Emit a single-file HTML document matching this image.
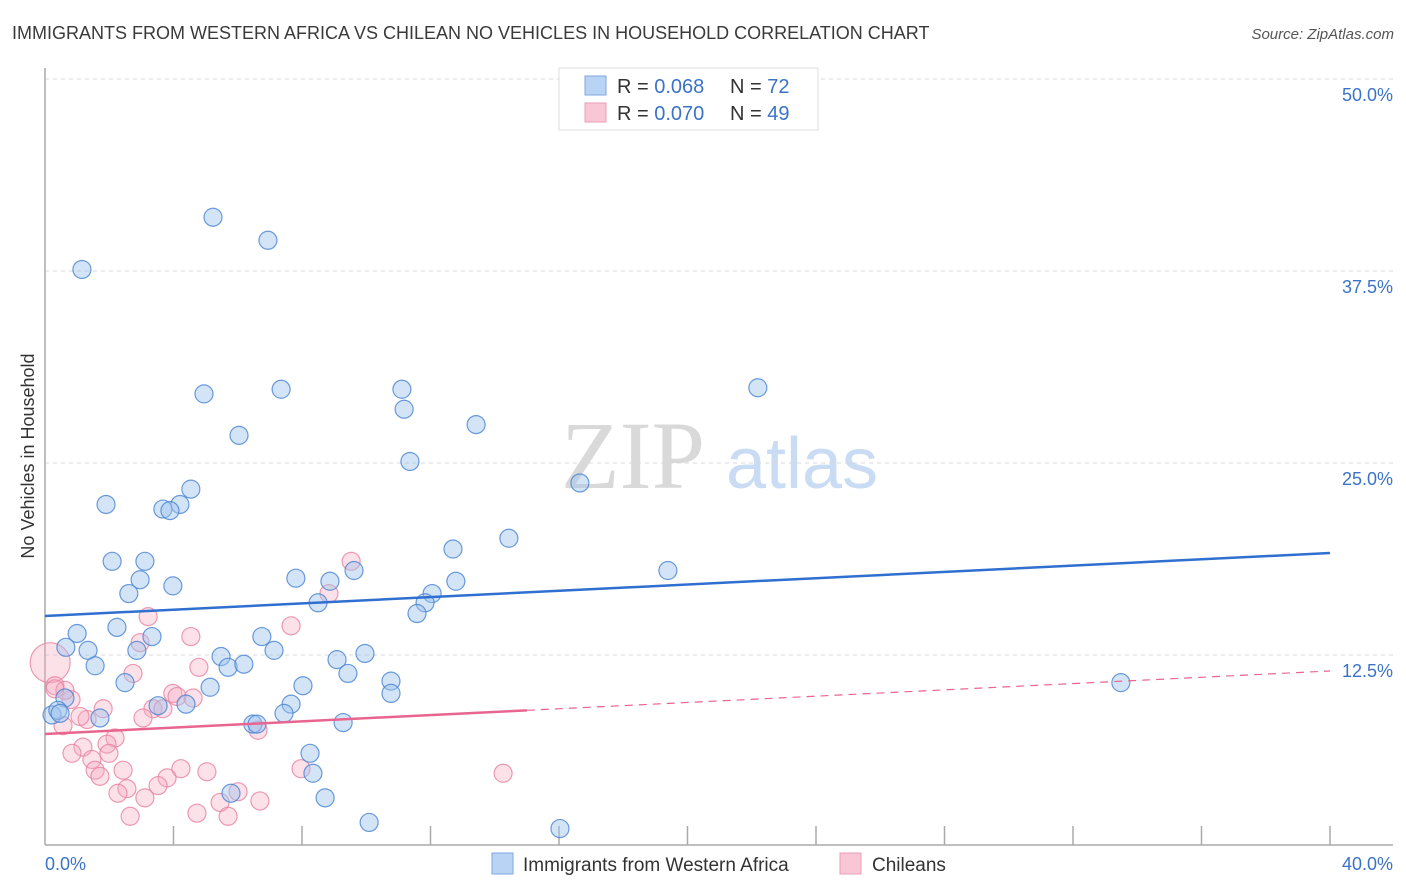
<!DOCTYPE html>
<html><head><meta charset="utf-8">
<style>
body{margin:0;background:#fff;font-family:"Liberation Sans",sans-serif;}
svg{display:block}
</style></head>
<body>
<svg id="chart" width="1406" height="892" viewBox="0 0 1406 892" xmlns="http://www.w3.org/2000/svg">
<text x="12" y="39" font-size="18" fill="#3a3a3a">IMMIGRANTS FROM WESTERN AFRICA VS CHILEAN NO VEHICLES IN HOUSEHOLD CORRELATION CHART</text>
<text x="1394" y="39" font-size="15" fill="#555" text-anchor="end" font-style="italic">Source: ZipAtlas.com</text>
<g>
<text x="633" y="488" font-size="96" fill="#d9d9d9" font-family="Liberation Serif, serif" text-anchor="middle">ZIP</text>
<text x="802" y="488" font-size="72" fill="#c9dcf3" text-anchor="middle">atlas</text>
</g>
<g id="grid"></g>
<g id="axes"></g>
<g id="marks"></g>
<text transform="translate(34,456) rotate(-90)" font-size="18" fill="#333" text-anchor="middle">No Vehicles in Household</text>
<g>
<rect x="559" y="68" width="259" height="62" fill="#fff" stroke="#ddd"/>
<rect x="585" y="76" width="21" height="19" fill="#b9d3f4" stroke="#7fa7e0"/>
<rect x="585" y="103" width="21" height="19" fill="#f8c6d4" stroke="#eb9cb4"/>
<text x="617" y="93" font-size="20" fill="#333">R = <tspan fill="#3b73c8">0.068</tspan></text>
<text x="730" y="93" font-size="20" fill="#333">N = <tspan fill="#3b73c8">72</tspan></text>
<text x="617" y="120" font-size="20" fill="#333">R = <tspan fill="#3b73c8">0.070</tspan></text>
<text x="730" y="120" font-size="20" fill="#333">N = <tspan fill="#3b73c8">49</tspan></text>
</g>
<g>
<rect x="492" y="853" width="21" height="21" fill="#b9d3f4" stroke="#7fa7e0"/>
<text x="523" y="871" font-size="19" fill="#333">Immigrants from Western Africa</text>
<rect x="840" y="853" width="21" height="21" fill="#f8c6d4" stroke="#eb9cb4"/>
<text x="872" y="871" font-size="19" fill="#333">Chileans</text>
</g>
</svg>
<script>
const blueX=[1.15,5.23,6.94,4.95,7.35,6.04,11.11,11.18,13.42,11.36,22.19,16.65,1.90,4.54,4.20,3.67,3.89,14.44,12.70,2.09,3.11,9.62,7.81,8.87,2.96,3.98,12.79,19.39,2.61,12.05,11.83,8.50,11.58,2.24,1.00,3.33,6.75,0.65,1.34,2.86,7.13,5.48,9.96,9.09,1.56,5.70,6.19,9.43,2.49,5.14,8.03,10.77,33.49,10.77,0.62,7.66,7.44,3.52,4.39,1.71,0.22,0.40,0.47,6.47,6.60,9.28,8.25,8.34,5.79,8.72,10.09,16.03];
const blueY=[37.6,41.0,39.5,29.5,29.8,26.8,29.8,28.5,27.5,25.1,29.9,23.7,22.3,23.3,22.3,22.0,21.9,20.1,19.4,18.6,18.6,18.0,17.5,17.3,17.4,17.0,17.3,18.0,16.5,16.5,15.9,15.9,15.2,14.3,13.9,13.7,13.7,13.0,12.8,12.8,12.8,12.4,12.6,12.2,11.8,11.7,11.9,11.3,10.7,10.4,10.5,10.8,10.7,10.0,9.7,9.3,8.7,9.2,9.3,8.4,8.6,8.9,8.7,8.0,8.0,8.1,6.1,4.8,3.5,3.2,1.6,1.2];
const pinkX=[0.16,3.21,4.54,2.96,7.66,9.53,8.84,4.79,2.74,0.31,0.81,3.98,4.11,4.61,1.81,3.36,3.67,3.05,1.31,1.09,0.56,6.63,2.18,1.93,1.18,0.84,1.99,1.46,1.56,2.43,1.71,4.23,5.04,3.80,3.52,2.55,2.27,3.11,6.01,5.45,6.69,2.65,4.73,5.70,7.97,14.26,0.62,0.31];
const pinkY=[12.0,15.0,13.7,13.3,14.4,18.6,16.5,11.7,11.3,10.5,9.6,10.0,9.8,9.7,9.0,9.0,9.0,8.4,8.3,8.5,7.9,7.6,7.1,6.7,6.5,6.1,6.1,5.7,5.0,5.0,4.6,5.1,4.9,4.5,4.0,3.8,3.5,3.2,3.6,2.9,3.0,2.0,2.2,2.0,5.1,4.8,10.2,10.3];
const blueTrend=[15.04,19.14];
const pinkTrend=[7.36,11.46];
const pinkSolidEnd=15.0;
const yTicks=[12.5,25,37.5,50];
const yTickLabels=["12.5%","25.0%","37.5%","50.0%"];
const xTicks=[0,4,8,12,16,20,24,28,32,36,40];

const NS="http://www.w3.org/2000/svg";
const X0=45,X1=1330,Y0=847,PXY=15.36;
const sx=v=>X0+(v/40)*(X1-X0);
const sy=v=>Y0-v*PXY;
function mk(tag,attrs,parent){const e=document.createElementNS(NS,tag);for(const k in attrs)e.setAttribute(k,attrs[k]);parent.appendChild(e);return e;}
const grid=document.getElementById('grid'),axes=document.getElementById('axes'),marks=document.getElementById('marks');
yTicks.forEach((t,i)=>{
  const l=mk('line',{x1:X0,x2:1393,y1:sy(t),y2:sy(t),stroke:'#d8d8d8','stroke-dasharray':'4,4'},grid);
  
  
  const tx=mk('text',{x:1393,y:sy(t)+22,'font-size':18,fill:'#3b73c8','text-anchor':'end'},axes);
  tx.textContent=yTickLabels[i];
  
  
});
const ax=mk('line',{x1:X0,x2:X0,y1:68,y2:845,stroke:'#aaa','stroke-width':1.5},axes);


const bx=mk('line',{x1:X0,x2:1393,y1:845,y2:845,stroke:'#aaa','stroke-width':1.5},axes);


xTicks.forEach(t=>{
  if(t===0)return;
  const l=mk('line',{x1:sx(t),x2:sx(t),y1:826,y2:845,stroke:'#aaa','stroke-width':1.5},axes);
  
  
});
const xl0=mk('text',{x:45,y:870,'font-size':18,fill:'#3b73c8'},axes);xl0.textContent='0.0%';


const xl1=mk('text',{x:1393,y:870,'font-size':18,fill:'#3b73c8','text-anchor':'end'},axes);xl1.textContent='40.0%';



pinkX.forEach((v,i)=>{
  const c=mk('circle',{cx:sx(v),cy:sy(pinkY[i]),r:i===0?20:9,fill:'rgba(245,170,192,0.35)',stroke:'rgba(232,130,160,0.8)','stroke-width':1.2},marks);
  
  
});
blueX.forEach((v,i)=>{
  const c=mk('circle',{cx:sx(v),cy:sy(blueY[i]),r:9,fill:'rgba(160,195,238,0.45)',stroke:'rgba(70,130,210,0.8)','stroke-width':1.2},marks);
  
  
});
const bt=mk('line',{x1:sx(0),y1:sy(blueTrend[0]),x2:sx(40),y2:sy(blueTrend[1]),stroke:'#2f6fd0','stroke-width':2.5},marks);


const pEnd=pinkTrend[0]+(pinkTrend[1]-pinkTrend[0])*pinkSolidEnd/40;
const pt=mk('line',{x1:sx(0),y1:sy(pinkTrend[0]),x2:sx(pinkSolidEnd),y2:sy(pEnd),stroke:'#e8658f','stroke-width':2.5},marks);


const pd=mk('line',{x1:sx(pinkSolidEnd),y1:sy(pEnd),x2:sx(40),y2:sy(pinkTrend[1]),stroke:'#e8658f','stroke-width':1.2,'stroke-dasharray':'8,6'},marks);


</script>
</body></html>
